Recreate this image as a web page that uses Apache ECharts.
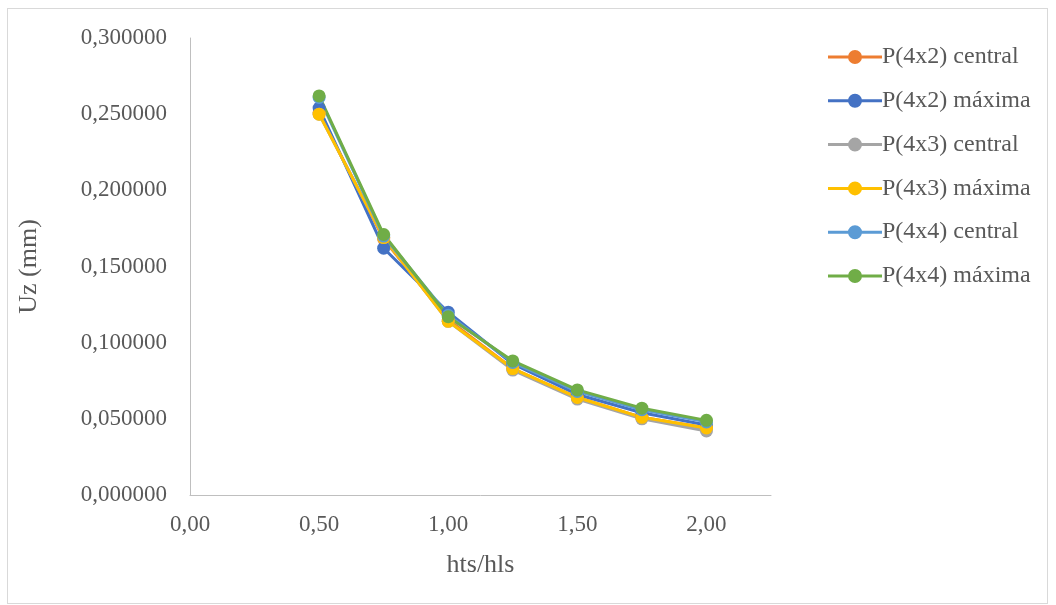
<!DOCTYPE html>
<html>
<head>
<meta charset="utf-8">
<script src="https://cdn.jsdelivr.net/npm/echarts@6/dist/echarts.min.js"></script>
<style>
html,body{margin:0;padding:0;background:#fff;}
#frame{position:absolute;left:7px;top:8px;width:1041px;height:596px;border:1px solid #d9d9d9;box-sizing:border-box;}
#chart{position:absolute;left:0;top:0;width:1056px;height:605px;}
</style>
</head>
<body>
<div id="frame"></div>
<div id="chart"></div>
<script>
const xValues = [0.5, 0.75, 1.0, 1.25, 1.5, 1.75, 2.0];
const seriesNames = ['P(4x2) central', 'P(4x2) máxima', 'P(4x3) central', 'P(4x3) máxima', 'P(4x4) central', 'P(4x4) máxima'];
const p4x2Central = [0.251, 0.168, 0.115, 0.083, 0.064, 0.051, 0.044];
const p4x2Maxima  = [0.254, 0.162, 0.120, 0.086, 0.066, 0.054, 0.046];
const p4x3Central = [0.250, 0.169, 0.114, 0.082, 0.063, 0.050, 0.042];
const p4x3Maxima  = [0.250, 0.169, 0.114, 0.083, 0.064, 0.051, 0.044];
const p4x4Central = [0.261, 0.170, 0.118, 0.087, 0.068, 0.056, 0.048];
const p4x4Maxima  = [0.262, 0.171, 0.117, 0.088, 0.069, 0.057, 0.049];
const colors = ['#ED7D31', '#4472C4', '#A5A5A5', '#FFC000', '#5B9BD5', '#70AD47'];

const allData = [p4x2Central, p4x2Maxima, p4x3Central, p4x3Maxima, p4x4Central, p4x4Maxima];
const font = "'Liberation Serif', 'DejaVu Serif', serif";
const legendIcon = 'path://M0,5.5 L54,5.5 L54,8.5 L0,8.5 Z M34,7 A7,7 0 1,1 20,7 A7,7 0 1,1 34,7 Z';
const chart = echarts.init(document.getElementById('chart'), null, {renderer: 'canvas'});
chart.setOption({
  backgroundColor: 'transparent',
  animation: false,
  color: colors,
  textStyle: {fontFamily: font},
  grid: {left: 190, top: 38, right: 285, bottom: 110, containLabel: false},
  legend: {
    orient: 'vertical',
    left: 823,
    top: 40,
    itemWidth: 54,
    itemHeight: 14,
    itemGap: 19.8,
    icon: legendIcon,
    data: seriesNames,
    textStyle: {fontFamily: font, fontSize: 24, color: '#595959', padding: [0, 0, 0, -5]}
  },
  xAxis: {
    type: 'value',
    min: 0, max: 2.25, interval: 0.5,
    name: 'hts/hls',
    nameLocation: 'middle',
    nameGap: 57,
    nameTextStyle: {fontFamily: font, fontSize: 26, color: '#595959'},
    axisLine: {show: true, lineStyle: {color: '#bfbfbf', width: 1}},
    axisTick: {show: false},
    splitLine: {show: false},
    axisLabel: {
      showMaxLabel: false,
      margin: 18,
      fontFamily: font, fontSize: 23, color: '#595959',
      formatter: v => v.toFixed(2).replace('.', ',')
    }
  },
  yAxis: {
    type: 'value',
    min: 0, max: 0.3, interval: 0.05,
    name: 'Uz (mm)',
    nameLocation: 'middle',
    nameGap: 148,
    nameRotate: 90,
    nameTextStyle: {fontFamily: font, fontSize: 26, color: '#595959'},
    axisLine: {show: true, lineStyle: {color: '#bfbfbf', width: 1}},
    axisTick: {show: false},
    splitLine: {show: false},
    axisLabel: {
      margin: 23,
      fontFamily: font, fontSize: 23, color: '#595959',
      formatter: v => v.toFixed(6).replace('.', ',')
    }
  },
  series: seriesNames.map((n, i) => ({
    name: n,
    type: 'line',
    data: xValues.map((x, j) => [x, allData[i][j]]),
    symbol: 'circle',
    symbolSize: 13,
    lineStyle: {width: 3, color: colors[i]},
    itemStyle: {color: colors[i]}
  }))
});
</script>
</body>
</html>
